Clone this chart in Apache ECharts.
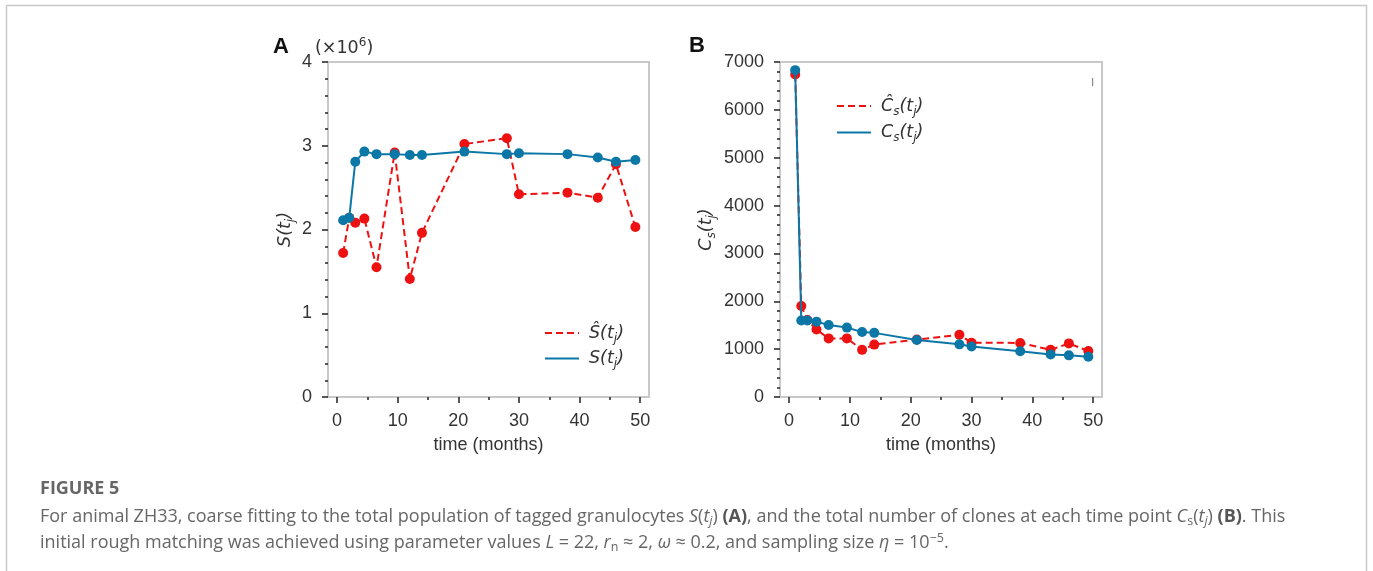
<!DOCTYPE html>
<html>
<head>
<meta charset="utf-8">
<title>Figure 5</title>
<script src="https://cdn.jsdelivr.net/npm/echarts@6/dist/echarts.min.js"></script>
<style>
html, body { margin: 0; padding: 0; background: #fff; }
#fig5 { width: 1373px; height: 571px; }
</style>
</head>
<body>
<div id="fig5"></div>
<script>
// sampling times (months)
var time = [1, 2, 3, 4.5, 6.5, 9.5, 12, 14, 21, 28, 30, 38, 43, 46, 49.2];
// panel A: tagged granulocytes, in units of 10^6
var granData = [1.72, 2.14, 2.08, 2.13, 1.55, 2.92, 1.41, 1.96, 3.02, 3.09, 2.42, 2.44, 2.38, 2.78, 2.03];
var granModel = [2.11, 2.14, 2.81, 2.93, 2.90, 2.90, 2.89, 2.89, 2.93, 2.90, 2.91, 2.90, 2.86, 2.81, 2.83];
// panel B: number of clones
var cloneData = [6740, 1900, 1610, 1410, 1225, 1225, 985, 1095, 1200, 1300, 1135, 1130, 985, 1120, 960];
var cloneModel = [6830, 1600, 1600, 1575, 1505, 1450, 1360, 1340, 1190, 1100, 1055, 955, 890, 870, 840];
// tick labels
var timeTicks = [0, 10, 20, 30, 40, 50];
var timeMinor = [5, 15, 25, 35, 45];
var granTicks = [0, 1, 2, 3, 4];
var cloneTicks = [0, 1000, 2000, 3000, 4000, 5000, 6000, 7000];

var RED = '#ee1111';
var BLUE = '#0b77a6';
var TXT = '#333';
var TICK = { color: '#222', width: 1.5 };

function pairs(ys) {
    return time.map(function (t, i) { return [t, ys[i]]; });
}

// four minor ticks between neighbouring major ticks
function minorOf(major) {
    var out = [];
    for (var i = 0; i < major.length - 1; i++) {
        var step = (major[i + 1] - major[i]) / 5;
        for (var k = 1; k < 5; k++) out.push(major[i] + k * step);
    }
    return out;
}

// italic math text with subscripts
var mathRich = {
    m: { fontFamily: 'DejaVu Sans', fontStyle: 'italic', fontSize: 17.5, color: TXT },
    j: { fontFamily: 'DejaVu Sans', fontStyle: 'italic', fontSize: 12, color: TXT, padding: [11, 0, 0, 0] },
    g: { width: 5 }
};

var tickFont = { fontFamily: 'Liberation Sans', fontSize: 18, color: TXT };
var noLine = { show: false, onZero: false };

function xAxes(grid) {
    return [{
        type: 'value', gridIndex: grid, min: -1.5, max: 51.45, position: 'bottom',
        name: 'time (months)', nameLocation: 'middle', nameGap: 39,
        nameTextStyle: tickFont,
        axisLine: noLine,
        axisTick: { inside: false, customValues: timeTicks, length: 6, lineStyle: TICK },
        axisLabel: Object.assign({ customValues: timeTicks, margin: 15 }, tickFont),
        splitLine: { show: false }
    }, {
        type: 'value', gridIndex: grid, min: -1.5, max: 51.45, position: 'bottom',
        axisLine: noLine,
        axisTick: { inside: false, customValues: timeMinor, length: 3, lineStyle: TICK },
        axisLabel: { show: false },
        splitLine: { show: false }
    }];
}

function yAxes(grid, ticks, nameText, gap) {
    var max = ticks[ticks.length - 1];
    return [{
        type: 'value', gridIndex: grid, min: 0, max: max, position: 'left',
        name: nameText, nameLocation: 'middle', nameGap: gap, nameRotate: 90,
        nameTextStyle: { rich: mathRich },
        axisLine: noLine,
        axisTick: { inside: false, customValues: ticks, length: 6, lineStyle: TICK },
        axisLabel: Object.assign({ customValues: ticks, margin: 16, formatter: function (v) { return String(v); } }, tickFont),
        splitLine: { show: false }
    }, {
        type: 'value', gridIndex: grid, min: 0, max: max, position: 'left',
        axisLine: noLine,
        axisTick: { inside: false, customValues: minorOf(ticks), length: 3, lineStyle: TICK },
        axisLabel: { show: false },
        splitLine: { show: false }
    }];
}

function lineSeries(name, xi, yi, ys, color, dashed, z) {
    return {
        name: name, type: 'line', xAxisIndex: xi, yAxisIndex: yi,
        data: pairs(ys),
        symbol: 'circle', symbolSize: 10,
        lineStyle: { color: color, width: 2, type: dashed ? [7, 4] : 'solid' },
        itemStyle: { color: color },
        z: z
    };
}

var labels = {
    Shat: '{g| }{m|Ŝ(t}{j|j}{m|)}',
    S: '{g| }{m|S(t}{j|j}{m|)}',
    Chat: '{g| }{m|Ĉ}{j|s}{m|(t}{j|j}{m|)}',
    C: '{g| }{m|C}{j|s}{m|(t}{j|j}{m|)}'
};

function legendAt(names, left, top, gap) {
    return {
        data: names, orient: 'vertical', left: left, top: top,
        itemWidth: 34, itemHeight: 12, itemGap: gap,
        selectedMode: false,
        itemStyle: { opacity: 0 },
        formatter: function (n) { return labels[n]; },
        textStyle: { rich: mathRich }
    };
}

var CAP = 18, CAPS = 12.5;
var capRich = {
    c: { fontFamily: 'Open Sans', fontSize: CAP, fill: '#666' },
    ci: { fontFamily: 'Open Sans', fontStyle: 'italic', fontSize: CAP, fill: '#666' },
    cb: { fontFamily: 'Open Sans', fontWeight: 'bold', fontSize: CAP, fill: '#555' },
    cs: { fontFamily: 'Open Sans', fontStyle: 'italic', fontSize: CAPS, fill: '#666', padding: [9, 0, 0, 0] },
    cs0: { fontFamily: 'Open Sans', fontSize: CAPS, fill: '#666', padding: [9, 0, 0, 0] },
    sup: { fontFamily: 'Open Sans', fontSize: CAPS, fill: '#666', padding: [0, 0, 9, 0] }
};

var capLine1 = '{c|For animal ZH33, coarse fitting to the total population of tagged granulocytes }' +
    '{ci|S}{c|(}{ci|t}{cs|j}{c|) }{cb|(A)}{c|, and the total number of clones at each time point }' +
    '{ci|C}{cs0|s}{c|(}{ci|t}{cs|j}{c|) }{cb|(B)}{c|. This}';
var capLine2 = '{c|initial rough matching was achieved using parameter values }{ci|L}{c| = 22, }' +
    '{ci|r}{cs0|n}{c| ≈ 2, }{ci|ω}{c| ≈ 0.2, and sampling size }{ci|η}{c| = 10}{sup|−5}{c|.}';

var chart = echarts.init(document.getElementById('fig5'));
chart.setOption({
    animation: false,
    grid: [
        { left: 328, top: 62, width: 321, height: 335, show: true, borderColor: '#c8c8c8', borderWidth: 2 },
        { left: 780, top: 62, width: 322, height: 335, show: true, borderColor: '#c8c8c8', borderWidth: 2 }
    ],
    xAxis: xAxes(0).concat(xAxes(1)),
    yAxis: yAxes(0, granTicks, '{m|S(t}{j|j}{m|)}', 31).concat(
        yAxes(1, cloneTicks, '{m|C}{j|s}{m|(t}{j|j}{m|)}', 62)),
    legend: [
        legendAt(['Shat', 'S'], 539, 319, 5),
        legendAt(['Chat', 'C'], 831, 92, 6)
    ],
    series: [
        lineSeries('Shat', 0, 0, granData, RED, true, 2),
        lineSeries('S', 0, 0, granModel, BLUE, false, 3),
        lineSeries('Chat', 2, 2, cloneData, RED, true, 2),
        lineSeries('C', 2, 2, cloneModel, BLUE, false, 3)
    ],
    graphic: [
        { type: 'rect', shape: { x: 6.5, y: 5.5, width: 1360, height: 700 },
          style: { fill: 'none', stroke: '#c8c8c8', lineWidth: 1.5 } },
        { type: 'text', x: 281, y: 47,
          style: { text: 'A', font: 'bold 22px Liberation Sans', fill: '#111', align: 'center', verticalAlign: 'middle' } },
        { type: 'text', x: 697, y: 46,
          style: { text: 'B', font: 'bold 22px Liberation Sans', fill: '#111', align: 'center', verticalAlign: 'middle' } },
        { type: 'text', x: 315, y: 48,
          style: {
              text: '{n|(×10}{p|6}{n|)}', verticalAlign: 'middle',
              rich: {
                  n: { fontFamily: 'DejaVu Sans', fontSize: 17.5, fill: TXT },
                  p: { fontFamily: 'DejaVu Sans', fontSize: 12, fill: TXT, padding: [0, 0, 10, 0] }
              }
          } },
        { type: 'rect', shape: { x: 1092, y: 78, width: 1.2, height: 8 }, style: { fill: '#888' } },
        { type: 'text', x: 40, y: 489,
          style: { text: 'FIGURE 5', font: 'bold 18px Open Sans', fill: '#666', verticalAlign: 'middle' } },
        { type: 'text', x: 40, y: 517, style: { text: capLine1, verticalAlign: 'middle', rich: capRich } },
        { type: 'text', x: 40, y: 543, style: { text: capLine2, verticalAlign: 'middle', rich: capRich } }
    ]
});
</script>
</body>
</html>
